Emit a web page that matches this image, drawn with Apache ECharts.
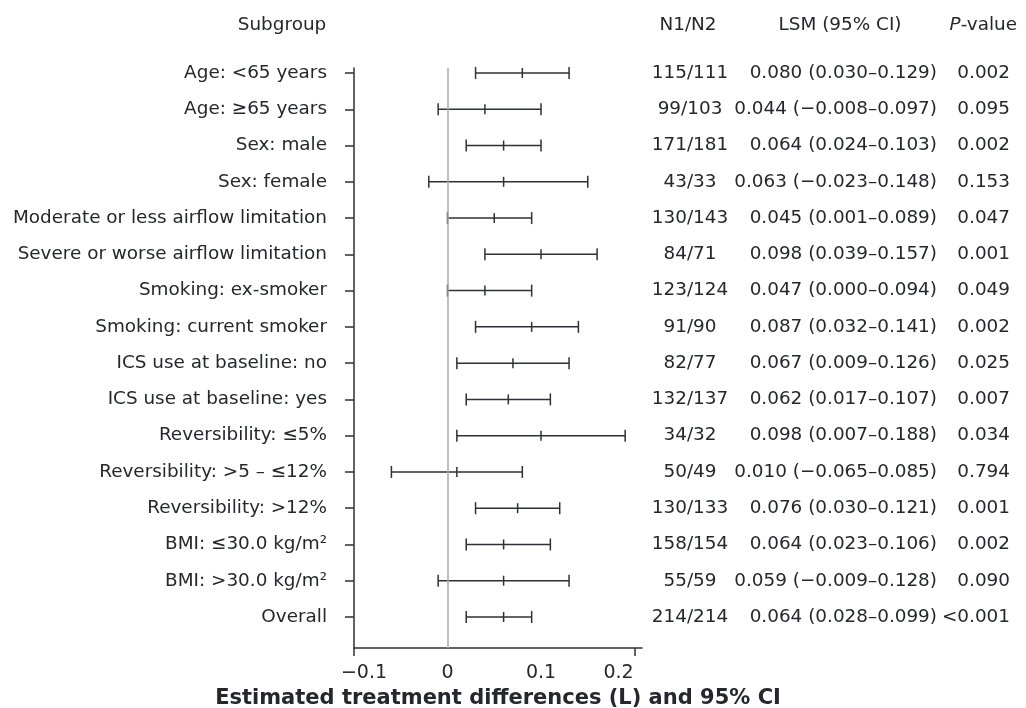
<!DOCTYPE html>
<html>
<head>
<meta charset="utf-8">
<script src="https://cdn.jsdelivr.net/npm/echarts@6/dist/echarts.min.js"></script>
<style>
  html, body { margin: 0; padding: 0; background: #ffffff; }
  #chart { width: 1026px; height: 708px; }
</style>
</head>
<body>
<div id="chart"></div>
<script>
// ---- data ----
var subgroups = [
  'Age: <65 years',
  'Age: \u226565 years',
  'Sex: male',
  'Sex: female',
  'Moderate or less airflow limitation',
  'Severe or worse airflow limitation',
  'Smoking: ex-smoker',
  'Smoking: current smoker',
  'ICS use at baseline: no',
  'ICS use at baseline: yes',
  'Reversibility: \u22645%',
  'Reversibility: >5 \u2013 \u226412%',
  'Reversibility: >12%',
  'BMI: \u226430.0 kg/m\u00b2',
  'BMI: >30.0 kg/m\u00b2',
  'Overall'
];
// plotted values (as drawn in the figure)
var lowerCI  = [0.03, -0.01, 0.02, -0.02, 0.00, 0.04, 0.00, 0.03, 0.01, 0.02, 0.01, -0.06, 0.03, 0.02, -0.01, 0.02];
var estimate = [0.08, 0.04, 0.06, 0.06, 0.05, 0.10, 0.04, 0.09, 0.07, 0.065, 0.10, 0.01, 0.075, 0.06, 0.06, 0.06];
var upperCI  = [0.13, 0.10, 0.10, 0.15, 0.09, 0.16, 0.09, 0.14, 0.13, 0.11, 0.19, 0.08, 0.12, 0.11, 0.13, 0.09];
// table columns
var n1n2 = ['115/111','99/103','171/181','43/33','130/143','84/71','123/124','91/90','82/77','132/137','34/32','50/49','130/133','158/154','55/59','214/214'];
var lsmText = [
  '0.080 (0.030\u20130.129)',
  '0.044 (\u22120.008\u20130.097)',
  '0.064 (0.024\u20130.103)',
  '0.063 (\u22120.023\u20130.148)',
  '0.045 (0.001\u20130.089)',
  '0.098 (0.039\u20130.157)',
  '0.047 (0.000\u20130.094)',
  '0.087 (0.032\u20130.141)',
  '0.067 (0.009\u20130.126)',
  '0.062 (0.017\u20130.107)',
  '0.098 (0.007\u20130.188)',
  '0.010 (\u22120.065\u20130.085)',
  '0.076 (0.030\u20130.121)',
  '0.064 (0.023\u20130.106)',
  '0.059 (\u22120.009\u20130.128)',
  '0.064 (0.028\u20130.099)'
];
var pValues = ['0.002','0.095','0.002','0.153','0.047','0.001','0.049','0.002','0.025','0.007','0.034','0.794','0.001','0.002','0.090','<0.001'];
var xTickValues = [-0.1, 0, 0.1, 0.2];
var xTickMarks = [-0.1, 0.2];
var headers = { subgroup: 'Subgroup', n: 'N1/N2', lsm: 'LSM (95% CI)', p: 'P-value' };
var xTitle = 'Estimated treatment differences (L) and 95% CI';

// ---- chart ----
var FONT = 'DejaVu Sans';
var FS = 18.4;
var TXT = '#24282c';
var LINE = '#2d3236';
var rowIdx = subgroups.map(function (_, i) { return i; });
var yMin = -0.138, yMax = 15.855;

var chart = echarts.init(document.getElementById('chart'), null, { renderer: 'canvas' });

function textAxis(arr, margin, align) {
  return {
    type: 'value', position: 'right', offset: 0, inverse: true,
    min: yMin, max: yMax,
    axisLine: { show: false, onZero: false }, axisTick: { show: false }, splitLine: { show: false },
    axisLabel: {
      customValues: rowIdx, margin: margin, align: align,
      color: TXT, fontFamily: FONT, fontSize: FS,
      formatter: function (v) { return arr[Math.round(v)]; }
    }
  };
}

function xLabel(v) {
  var s = Math.abs(v) < 1e-9 ? '0' : v.toFixed(1).replace('-', '\u2212');
  if (v < -0.05) return '{l|' + s + '}';
  if (v > 0.15) return '{r|' + s + '}';
  return '{c|' + s + '}';
}
var xRichBase = { color: TXT, fontFamily: FONT, fontSize: 19 };

var option = {
  backgroundColor: '#ffffff',
  animation: false,
  grid: { left: 354, right: 384, top: 68, bottom: 60, containLabel: false, outerBoundsMode: 'none' },
  xAxis: {
    type: 'value', min: -0.1, max: 0.208, position: 'bottom',
    axisLine: { show: true, onZero: false, lineStyle: { color: LINE, width: 1.5 } },
    axisTick: { show: true, customValues: xTickMarks, length: 8, lineStyle: { color: LINE, width: 1.5 } },
    splitLine: { show: false },
    axisLabel: {
      customValues: xTickValues, margin: 16,
      color: TXT, fontFamily: FONT, fontSize: 19,
      formatter: xLabel,
      rich: {
        l: Object.assign({ padding: [0, 0, 0, 20] }, xRichBase),
        c: Object.assign({}, xRichBase),
        r: Object.assign({ padding: [0, 32, 0, 0] }, xRichBase)
      }
    },
    name: xTitle, nameLocation: 'middle', nameGap: 37,
    nameTextStyle: { color: TXT, fontFamily: FONT, fontSize: 21, fontWeight: 'bold' }
  },
  yAxis: [
    {
      type: 'value', position: 'left', inverse: true, min: yMin, max: yMax,
      axisLine: { show: true, onZero: false, lineStyle: { color: LINE, width: 1.5 } },
      axisTick: { show: true, customValues: rowIdx, length: 9, lineStyle: { color: LINE, width: 1.5 } },
      splitLine: { show: false },
      axisLabel: {
        customValues: rowIdx, margin: 27,
        color: TXT, fontFamily: FONT, fontSize: FS,
        formatter: function (v) { return subgroups[Math.round(v)]; }
      }
    },
    textAxis(n1n2, 48, 'center'),
    textAxis(lsmText, 295, 'right'),
    textAxis(pValues, 368, 'right')
  ],
  graphic: [
    { type: 'text', x: 282, y: 25, style: { text: headers.subgroup, fill: TXT, fontFamily: FONT, fontSize: FS, align: 'center', verticalAlign: 'middle' } },
    { type: 'text', x: 688, y: 25, style: { text: headers.n, fill: TXT, fontFamily: FONT, fontSize: FS, align: 'center', verticalAlign: 'middle' } },
    { type: 'text', x: 840, y: 25, style: { text: headers.lsm, fill: TXT, fontFamily: FONT, fontSize: FS, align: 'center', verticalAlign: 'middle' } },
    { type: 'text', x: 1017, y: 25, style: {
        text: '{i|P}-value', fill: TXT, fontFamily: FONT, fontSize: FS, align: 'right', verticalAlign: 'middle',
        rich: { i: { fontStyle: 'italic', fill: TXT, fontFamily: FONT, fontSize: FS } } } }
  ],
  series: [{
    type: 'custom',
    coordinateSystem: 'cartesian2d',
    xAxisIndex: 0, yAxisIndex: 0,
    encode: { x: [1, 2, 3], y: 0 },
    data: rowIdx.map(function (i) { return [i, lowerCI[i], estimate[i], upperCI[i]]; }),
    renderItem: function (params, api) {
      var y = api.value(0);
      var pL = api.coord([api.value(1), y]);
      var pE = api.coord([api.value(2), y]);
      var pU = api.coord([api.value(3), y]);
      var st = { stroke: LINE, lineWidth: 1.5 };
      var cap = 6, mid = 5;
      return {
        type: 'group',
        children: [
          { type: 'line', shape: { x1: pL[0], y1: pL[1], x2: pU[0], y2: pU[1] }, style: st },
          { type: 'line', shape: { x1: pL[0], y1: pL[1] - cap, x2: pL[0], y2: pL[1] + cap }, style: st },
          { type: 'line', shape: { x1: pU[0], y1: pU[1] - cap, x2: pU[0], y2: pU[1] + cap }, style: st },
          { type: 'line', shape: { x1: pE[0], y1: pE[1] - mid, x2: pE[0], y2: pE[1] + mid }, style: st }
        ]
      };
    },
    markLine: {
      silent: true, symbol: 'none', animation: false,
      label: { show: false },
      lineStyle: { color: '#a8abae', width: 1.5, type: 'solid' },
      data: [{ xAxis: 0 }]
    },
    z: 3
  }]
};
chart.setOption(option);
</script>
</body>
</html>
